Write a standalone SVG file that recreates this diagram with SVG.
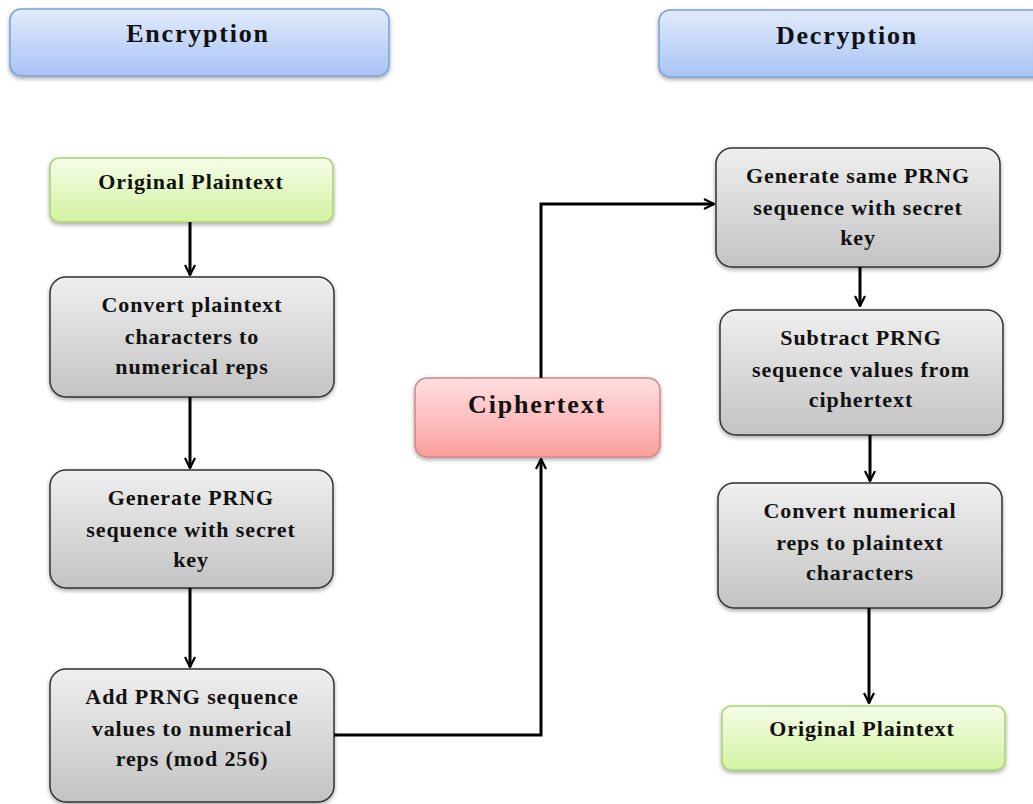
<svg xmlns="http://www.w3.org/2000/svg" width="1033" height="804" viewBox="0 0 1033 804">
<style>
text{font-family:"Liberation Serif","DejaVu Serif",serif;font-weight:bold;fill:#111;text-anchor:middle}
.t{font-size:22px;letter-spacing:0.9px}
.h{font-size:26px;letter-spacing:1.8px}
.blue{fill:url(#gBlue);stroke:#79a0d8;stroke-width:1.5}
.gray{fill:url(#gGray);stroke:#333;stroke-width:1.5}
.green{fill:url(#gGreen);stroke:#a8d373;stroke-width:1.5}
.pink{fill:url(#gPink);stroke:#d58585;stroke-width:1.5}
.c{fill:none;stroke:#000;stroke-width:3}
</style>
<defs>
<linearGradient id="gBlue" x1="0" y1="0" x2="0" y2="1"><stop offset="0" stop-color="#e1ebfc"/><stop offset="1" stop-color="#a8c3f5"/></linearGradient>
<linearGradient id="gGray" x1="0" y1="0" x2="0" y2="1"><stop offset="0" stop-color="#efefef"/><stop offset="1" stop-color="#c3c3c3"/></linearGradient>
<linearGradient id="gGreen" x1="0" y1="0" x2="0" y2="1"><stop offset="0" stop-color="#f5fde9"/><stop offset="1" stop-color="#d2f2a0"/></linearGradient>
<linearGradient id="gPink" x1="0" y1="0" x2="0" y2="1"><stop offset="0" stop-color="#ffe0e0"/><stop offset="1" stop-color="#fb9e9e"/></linearGradient>
<filter id="sh" x="-10%" y="-10%" width="120%" height="130%"><feDropShadow dx="0" dy="2" stdDeviation="2" flood-color="#000" flood-opacity="0.35"/></filter>
<marker id="ar" viewBox="0 0 12 12" refX="11" refY="6" markerWidth="12" markerHeight="12" markerUnits="userSpaceOnUse" orient="auto"><path d="M1,1 L11,6 L1,11" fill="none" stroke="#000" stroke-width="2.2"/></marker>
</defs>
<g id="hdr-enc"><rect class="blue" filter="url(#sh)" x="10" y="9" width="379" height="67" rx="11"/><text class="h" x="198" y="42">Encryption</text></g>
<g id="hdr-dec"><rect class="blue" filter="url(#sh)" x="659" y="10" width="390" height="67" rx="11"/><text class="h" x="847" y="44">Decryption</text></g>
<g id="e1"><rect class="green" filter="url(#sh)" x="50" y="158" width="283" height="64" rx="9"/><text class="t" x="191" y="189">Original Plaintext</text></g>
<g id="e2"><rect class="gray" filter="url(#sh)" x="50" y="277" width="284" height="120" rx="16"/><text class="t" x="192" y="312">Convert plaintext</text><text class="t" x="192" y="344">characters to</text><text class="t" x="192" y="374">numerical reps</text></g>
<g id="e3"><rect class="gray" filter="url(#sh)" x="50" y="470" width="283" height="118" rx="16"/><text class="t" x="191" y="505">Generate PRNG</text><text class="t" x="191" y="537">sequence with secret</text><text class="t" x="191" y="567">key</text></g>
<g id="e4"><rect class="gray" filter="url(#sh)" x="50" y="669" width="284" height="133" rx="16"/><text class="t" x="192" y="704">Add PRNG sequence</text><text class="t" x="192" y="736">values to numerical</text><text class="t" x="192" y="766">reps (mod 256)</text></g>
<g id="cipher"><rect class="pink" filter="url(#sh)" x="415" y="378" width="245" height="79" rx="12"/><text class="h" x="537" y="413">Ciphertext</text></g>
<g id="d1"><rect class="gray" filter="url(#sh)" x="716" y="148" width="284" height="119" rx="16"/><text class="t" x="858" y="183">Generate same PRNG</text><text class="t" x="858" y="215">sequence with secret</text><text class="t" x="858" y="245">key</text></g>
<g id="d2"><rect class="gray" filter="url(#sh)" x="720" y="310" width="283" height="125" rx="16"/><text class="t" x="861" y="345">Subtract PRNG</text><text class="t" x="861" y="377">sequence values from</text><text class="t" x="861" y="407">ciphertext</text></g>
<g id="d3"><rect class="gray" filter="url(#sh)" x="718" y="483" width="284" height="125" rx="16"/><text class="t" x="860" y="518">Convert numerical</text><text class="t" x="860" y="550">reps to plaintext</text><text class="t" x="860" y="580">characters</text></g>
<g id="d4"><rect class="green" filter="url(#sh)" x="722" y="706" width="283" height="64" rx="9"/><text class="t" x="862" y="736">Original Plaintext</text></g>
<g id="connectors">
<path class="c" d="M190,222 V275" marker-end="url(#ar)"/>
<path class="c" d="M190,397 V468" marker-end="url(#ar)"/>
<path class="c" d="M190,588 V667" marker-end="url(#ar)"/>
<path class="c" d="M334,735 H541 V459" marker-end="url(#ar)"/>
<path class="c" d="M541,378 V204 H714" marker-end="url(#ar)"/>
<path class="c" d="M860,267 V306" marker-end="url(#ar)"/>
<path class="c" d="M870,435 V481" marker-end="url(#ar)"/>
<path class="c" d="M869,608 V703" marker-end="url(#ar)"/>
</g>
</svg>
